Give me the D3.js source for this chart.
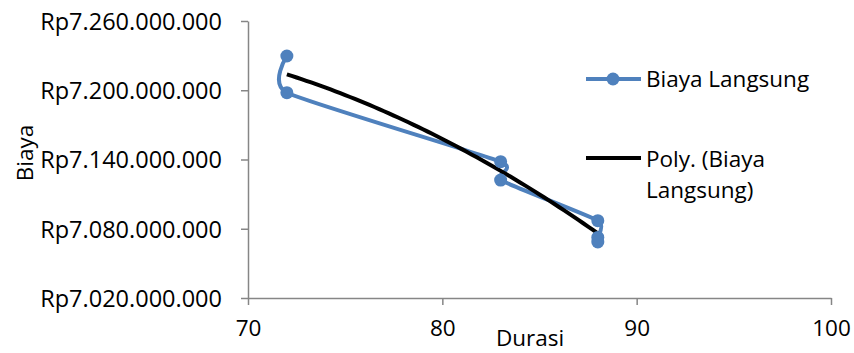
<!DOCTYPE html>
<html lang="en">
<head>
  <meta charset="UTF-8">
  <title>Biaya Langsung vs Durasi</title>
  <script src="https://d3js.org/d3.v7.min.js"></script>
  <style>
    body { margin:0; background:#fff; }
    svg { display:block; font-family:"Open Sans", sans-serif; }
  </style>
</head>
<body>
  <svg width="854" height="353"></svg>
  <script>
    // data (durasi in days, biaya in rupiah)
    const durasi = [72, 72, 83, 83, 88, 88, 88]
    const biaya = [7229700000, 7197900000, 7138100000, 7122200000, 7087000000, 7072500000, 7068500000]
    const xTicks = [70, 80, 90, 100]
    const yTicks = [7020000000, 7080000000, 7140000000, 7200000000, 7260000000]
    const seriesName = 'Biaya Langsung'
    const trendName = ['Poly. (Biaya', 'Langsung)']

    const svg = d3.select('svg')
    const blue = '#4f81bd'
    const axisColor = '#868686'
    const fontSize = 22.5

    const x = d3.scaleLinear().domain([70, 100]).range([248, 831])
    const y = d3.scaleLinear().domain([7020000000, 7260000000]).range([298, 21])

    const rp = d3.formatLocale({decimal: ',', thousands: '.', grouping: [3], currency: ['Rp', '']}).format('$,.0f')

    // y axis
    const yAxis = d3.axisLeft(y).tickValues(yTicks).tickFormat(rp).tickSizeOuter(0).tickSizeInner(7).tickPadding(19)
    const gy = svg.append('g').attr('transform', 'translate(248,0)').call(yAxis)
    // x axis
    const xAxis = d3.axisBottom(x).tickValues(xTicks).tickSizeOuter(0).tickSizeInner(7).tickPadding(15)
    const gx = svg.append('g').attr('transform', 'translate(0,298)').call(xAxis)

    ;[gx, gy].forEach(g => {
      g.selectAll('.domain, line').attr('stroke', axisColor).attr('stroke-width', 1.5)
      g.selectAll('text').attr('fill', '#000').style('font-size', fontSize + 'px')
        .style('font-family', '"Open Sans", sans-serif')
    })
    gy.selectAll('text').attr('dy', '0.36em').style('font-size', '23.5px')

    // axis titles
    svg.append('text').attr('x', 530).attr('y', 346).attr('text-anchor', 'middle')
      .style('font-size', fontSize + 'px').text('Durasi')
    svg.append('text').attr('transform', 'translate(33,153) rotate(-90)').attr('text-anchor', 'middle')
      .style('font-size', fontSize + 'px').text('Biaya')

    const pts = durasi.map((d, i) => [d, biaya[i]])

    // series, smoothed line
    const line = d3.line().x(d => x(d[0])).y(d => y(d[1])).curve(d3.curveCardinal.tension(0.5))
    svg.append('path').attr('d', line(pts)).attr('fill', 'none')
      .attr('stroke', blue).attr('stroke-width', 4).attr('stroke-linejoin', 'round')

    // polynomial (order 2) trendline fitted to the series
    function polyFit (xs, ys) {
      const m = d3.mean(xs)
      const s = [0, 0, 0, 0, 0]
      const t = [0, 0, 0]
      xs.forEach((xv, i) => {
        const u = xv - m
        for (let k = 0; k < 5; k++) s[k] += Math.pow(u, k)
        for (let k = 0; k < 3; k++) t[k] += ys[i] * Math.pow(u, k)
      })
      const A = [[s[0], s[1], s[2], t[0]], [s[1], s[2], s[3], t[1]], [s[2], s[3], s[4], t[2]]]
      for (let c = 0; c < 3; c++) {
        for (let r = c + 1; r < 3; r++) {
          const f = A[r][c] / A[c][c]
          for (let k = c; k < 4; k++) A[r][k] -= f * A[c][k]
        }
      }
      const b = [0, 0, 0]
      for (let r = 2; r >= 0; r--) {
        let v = A[r][3]
        for (let k = r + 1; k < 3; k++) v -= A[r][k] * b[k]
        b[r] = v / A[r][r]
      }
      return xv => b[0] + b[1] * (xv - m) + b[2] * (xv - m) * (xv - m)
    }
    const fit = polyFit(durasi, biaya)
    const trend = d3.range(72, 88.01, 0.25).map(d => [d, fit(d)])
    svg.append('path').attr('d', d3.line().x(d => x(d[0])).y(d => y(d[1]))(trend))
      .attr('fill', 'none').attr('stroke', '#000').attr('stroke-width', 4)

    // markers
    svg.selectAll('circle.pt').data(pts).enter().append('circle').attr('class', 'pt')
      .attr('cx', d => x(d[0])).attr('cy', d => y(d[1])).attr('r', 6.5).attr('fill', blue)

    // legend
    const lg = svg.append('g')
    lg.append('line').attr('x1', 586).attr('x2', 641).attr('y1', 79).attr('y2', 79)
      .attr('stroke', blue).attr('stroke-width', 4)
    lg.append('circle').attr('cx', 613).attr('cy', 79).attr('r', 6.5).attr('fill', blue)
    lg.append('text').attr('x', 646).attr('y', 87).style('font-size', fontSize + 'px').text(seriesName)
    lg.append('line').attr('x1', 586).attr('x2', 641).attr('y1', 158).attr('y2', 158)
      .attr('stroke', '#000').attr('stroke-width', 4)
    lg.selectAll('text.tr').data(trendName).enter().append('text').attr('class', 'tr')
      .attr('x', 646).attr('y', (d, i) => 167 + i * 31).style('font-size', fontSize + 'px').text(d => d)
  </script>
</body>
</html>
